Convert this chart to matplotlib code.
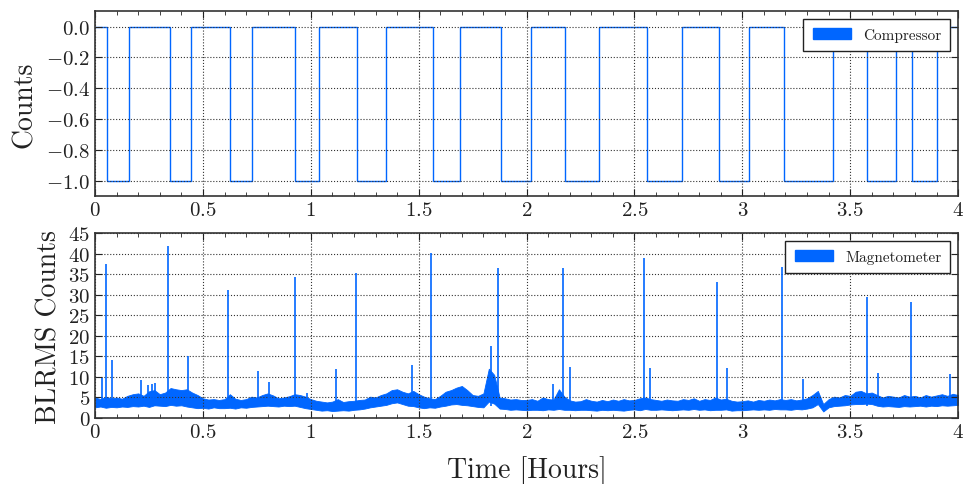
import matplotlib
matplotlib.use("Agg")
import matplotlib.pyplot as plt
from matplotlib.patches import Patch
from matplotlib.ticker import MultipleLocator, FuncFormatter
import numpy as np

plt.rcParams['font.family'] = 'serif'
plt.rcParams['font.serif'] = ['cmr10']
plt.rcParams['mathtext.fontset'] = 'cm'
plt.rcParams['axes.formatter.use_mathtext'] = True
plt.rcParams['text.color'] = '#222222'
plt.rcParams['axes.labelcolor'] = '#222222'
plt.rcParams['xtick.labelcolor'] = '#222222'
plt.rcParams['ytick.labelcolor'] = '#222222'

BLUE = '#0066ff'

# compressor state: edges (hours) and level in each interval
comp_edges = [0.0, 0.056, 0.158, 0.348, 0.445, 0.626, 0.728, 0.927, 1.038,
              1.214, 1.349, 1.567, 1.692, 1.880, 2.019, 2.180, 2.336, 2.557,
              2.722, 2.891, 3.033, 3.193, 3.419, 3.577, 3.713, 3.788, 3.904, 4.0]
comp_levels = [0, -1, 0, -1, 0, -1, 0, -1, 0, -1, 0, -1, 0, -1, 0, -1, 0, -1,
               0, -1, 0, -1, 0, -1, 0, -1, 0]
comp_ticks = [-1.0, -0.8, -0.6, -0.4, -0.2, 0.0]

# magnetometer BLRMS noise band, sampled every 0.025 h (0 .. 4)
mag_t = np.arange(161) * 0.025
mag_lo = [2.6, 2.8, 2.5, 2.7, 2.6, 2.8, 2.7, 2.9,
          2.8, 3.0, 2.7, 3.1, 3.0, 2.9, 3.2, 3.0,
          3.1, 2.8, 2.6, 2.4, 2.5, 2.3, 2.6, 2.4,
          2.4, 2.5, 2.3, 2.6, 2.5, 2.7, 2.8, 2.9,
          3.0, 2.9, 2.8, 3.0, 2.9, 3.0, 2.7, 2.4,
          2.2, 2.0, 1.8, 1.9, 1.7, 1.8, 1.9, 1.8,
          2.0, 2.1, 2.3, 2.6, 2.8, 3.0, 3.2, 3.6,
          3.8, 3.4, 3.0, 2.9, 2.6, 2.4, 2.6, 2.5,
          2.8, 3.0, 3.3, 3.4, 3.2, 3.1, 2.9, 2.7,
          2.6, 4.0, 3.5, 2.3, 2.2, 2.0, 2.1, 2.0,
          1.9, 2.0, 2.0, 1.9, 2.1, 2.0, 2.2, 2.0,
          2.0, 1.9, 2.0, 2.0, 1.9, 1.8, 2.0, 1.9,
          2.0, 1.9, 1.8, 2.0, 2.1, 1.9, 2.2, 2.0,
          2.0, 2.1, 2.0, 1.9, 2.0, 2.1, 2.0, 2.2,
          2.0, 2.1, 1.9, 2.0, 2.0, 2.1, 1.8, 1.9,
          1.9, 2.0, 2.1, 2.0, 2.1, 2.0, 2.2, 2.1,
          2.1, 2.0, 2.2, 2.1, 2.3, 2.6, 3.4, 1.6,
          2.6, 2.9, 3.0, 3.1, 3.3, 3.4, 3.4, 3.5,
          3.4, 3.0, 2.8, 2.9, 2.8, 2.7, 2.9, 2.8,
          2.9, 3.0, 2.8, 3.0, 2.9, 3.1, 3.0, 3.1,
          3.2]
mag_hi = [5.0, 4.6, 5.2, 4.8, 5.0, 4.7, 5.4, 5.8,
          6.0, 5.4, 6.5, 6.8, 5.8, 6.2, 7.3, 7.0,
          6.8, 7.0, 6.2, 5.6, 4.8, 4.5, 4.6, 4.4,
          4.6, 5.8, 4.7, 4.4, 4.6, 5.2, 5.0, 5.6,
          6.0, 5.5, 4.8, 5.0, 5.3, 5.8, 5.6, 5.2,
          4.6, 4.2, 4.0, 3.8, 4.0, 4.6, 3.9, 4.1,
          4.2, 4.4, 4.5, 5.2, 5.0, 5.6, 6.0, 6.8,
          7.0, 6.4, 6.0, 6.6, 5.8, 5.2, 4.8, 4.6,
          5.4, 6.4, 6.8, 7.4, 7.8, 6.8, 5.6, 5.4,
          6.0, 12.0, 10.5, 5.0, 4.8, 4.5, 4.6, 4.4,
          4.4, 4.6, 4.2, 5.0, 4.6, 4.5, 7.0, 5.2,
          4.3, 4.0, 4.1, 4.6, 4.2, 4.0, 4.4, 4.1,
          4.5, 4.2, 4.6, 4.3, 4.4, 4.8, 5.0, 4.6,
          4.4, 4.2, 4.5, 4.3, 4.2, 4.6, 4.4, 4.8,
          4.2, 4.6, 4.4, 5.0, 4.5, 4.7, 4.2, 4.0,
          4.1, 4.3, 4.0, 4.4, 4.2, 4.5, 4.3, 4.6,
          4.4, 4.6, 4.3, 4.5, 4.8, 5.6, 6.6, 3.4,
          4.6, 5.2, 5.0, 5.6, 5.4, 6.4, 6.6, 6.0,
          6.2, 5.6, 5.0, 5.4, 5.2, 5.0, 5.6, 5.2,
          5.4, 5.0, 5.6, 5.2, 5.5, 5.8, 5.4, 5.9,
          5.6]

# spikes: time (hours) and peak counts
spike_t = [0.034, 0.051, 0.080, 0.215, 0.245, 0.262, 0.277, 0.340, 0.431,
           0.618, 0.754, 0.808, 0.926, 0.983, 1.117, 1.210, 1.469, 1.559,
           1.835, 1.866, 2.121, 2.169, 2.203, 2.546, 2.572, 2.884, 2.931,
           3.186, 3.282, 3.577, 3.628, 3.782, 3.963]
spike_h = [9.7, 37.5, 14.2, 9.3, 8.0, 8.2, 8.5, 41.8, 15.0,
           31.1, 11.4, 8.7, 34.2, 6.2, 11.9, 35.3, 12.8, 40.1,
           17.4, 36.5, 8.4, 36.4, 12.3, 38.9, 12.2, 33.1, 12.2,
           36.8, 9.5, 29.5, 10.9, 28.3, 10.7]

fig = plt.figure(figsize=(9.63, 4.85), dpi=100)
ax1 = fig.add_axes([0.0987, 0.594, 0.8962, 0.381])
ax2 = fig.add_axes([0.0987, 0.136, 0.8962, 0.3815])

ax1.stairs(comp_levels, comp_edges, baseline=None, color=BLUE, lw=1.0)
ax1.set_ylim(-1.1, 0.1)
ax1.set_yticks(comp_ticks)
ax1.yaxis.set_major_formatter(FuncFormatter(lambda v, p: r'$%.1f$' % (v + 0.0 if abs(v) > 1e-9 else 0.0)))
ax1.set_ylabel('Counts', fontsize=20, labelpad=6)
ax1.legend(handles=[Patch(color=BLUE, label='Compressor')], loc='upper right',
           fontsize=11, fancybox=False, edgecolor='#222222', framealpha=1,
           borderaxespad=0.5, handlelength=2.5, borderpad=0.6)

ax2.fill_between(mag_t, mag_lo, mag_hi, color=BLUE, lw=0.6)
ax2.vlines(spike_t, 3.0, spike_h, color=BLUE, lw=1.2)
ax2.set_ylim(0, 45)
ax2.set_yticks(np.arange(0, 46, 5))
ax2.yaxis.set_major_formatter(FuncFormatter(lambda v, p: r'$%g$' % v))
ax2.set_ylabel('BLRMS Counts', fontsize=20, labelpad=4)
ax2.set_xlabel('Time [Hours]', fontsize=20, labelpad=10)
ax2.legend(handles=[Patch(color=BLUE, label='Magnetometer')], loc='upper right',
           fontsize=11, fancybox=False, edgecolor='#222222', framealpha=1,
           borderaxespad=0.5, handlelength=2.5, borderpad=0.6)

for ax in (ax1, ax2):
    ax.set_xlim(0, 4)
    ax.xaxis.set_major_locator(MultipleLocator(0.5))
    ax.xaxis.set_minor_locator(MultipleLocator(0.1))
    ax.xaxis.set_major_formatter(FuncFormatter(lambda v, p: r'$%g$' % v))
    ax.tick_params(which='both', direction='in', top=True, right=True,
                   labelsize=15, color='#222222')
    ax.tick_params(which='major', length=5)
    ax.tick_params(which='minor', length=3)
    ax.grid(True, color='#333333', linestyle=':', lw=0.8)
    for s in ax.spines.values():
        s.set_linewidth(1.2)
        s.set_color('#333333')

fig.savefig('out.png', dpi=100)
